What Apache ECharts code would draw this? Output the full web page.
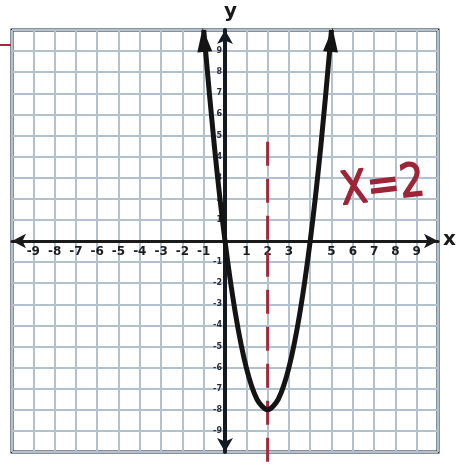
<!DOCTYPE html>
<html>
<head>
<meta charset="utf-8">
<script src="https://cdn.jsdelivr.net/npm/echarts@6/dist/echarts.min.js"></script>
<style>
  html, body { margin: 0; padding: 0; background: #ffffff; }
  #chart { width: 462px; height: 476px; }
</style>
</head>
<body>
<div id="chart"></div>
<script>
// Parabola y = 2x^2 - 8x, points read at half-unit steps
const curveX = [-1, -0.5, 0, 0.5, 1, 1.5, 2, 2.5, 3, 3.5, 4, 4.5, 5];
const curveY = [10, 4.5, 0, -3.5, -6, -7.5, -8, -7.5, -6, -3.5, 0, 4.5, 10];

// Printed tick numbers on the axes
const xTickLabels = [-9, -8, -7, -6, -5, -4, -3, -2, -1, 1, 2, 3, 5, 6, 7, 8, 9];
const yTickLabels = [-9, -8, -7, -6, -5, -4, -3, -2, -1, 1, 2, 3, 4, 5, 6, 7, 8, 9];

// Axis of symmetry x = 2, drawn as a dashed line
const symmetryX = 2;
const symmetryTop = 4.7;
const symmetryBottom = -10.8;

// Plot area in pixels; the axes cross at the centre, so each axis is
// shifted by half the plot size from its default edge
const GRID = { left: 12, right: 24, top: 30, bottom: 24 };
const plotW = 462 - GRID.left - GRID.right;
const plotH = 476 - GRID.top - GRID.bottom;

const curveData = curveX.map((x, i) => {
  const pt = { value: [x, curveY[i]] };
  if (i === 0 || i === curveX.length - 1) {
    pt.symbol = 'triangle';
    pt.symbolSize = [15, 24];
    pt.symbolRotate = i === 0 ? 5 : -5;
    pt.symbolOffset = [0, 10];
    pt.itemStyle = { color: '#141414' };
  }
  return pt;
});

const chart = echarts.init(document.getElementById('chart'), null, { renderer: 'canvas' });

chart.setOption({
  backgroundColor: '#ffffff',
  animation: false,
  grid: Object.assign({}, GRID, {
    show: true,
    borderColor: '#17222c',
    borderWidth: 3,
    backgroundColor: 'transparent'
  }),
  xAxis: {
    type: 'value',
    position: 'bottom',
    offset: -plotH / 2,
    min: -10, max: 10, interval: 1,
    axisLine: {
      onZero: false,
      lineStyle: { color: '#1a1a1a', width: 3 },
      symbol: ['arrow', 'arrow'],
      symbolSize: [11, 14]
    },
    axisTick: { show: false },
    splitLine: { show: true, lineStyle: { color: '#b3c0cd', width: 2 } },
    axisLabel: {
      margin: 5,
      fontSize: 12,
      fontWeight: 'bold',
      fontFamily: 'DejaVu Sans',
      color: '#1c1c1c',
      formatter: v => (xTickLabels.includes(v) ? String(v) : '')
    }
  },
  yAxis: {
    type: 'value',
    position: 'left',
    offset: -plotW / 2,
    min: -10, max: 10, interval: 1,
    axisLine: {
      onZero: false,
      lineStyle: { color: '#141a22', width: 4 },
      symbol: ['arrow', 'arrow'],
      symbolSize: [12, 14]
    },
    axisTick: { show: false },
    splitLine: { show: true, lineStyle: { color: '#b3c0cd', width: 2 } },
    axisLabel: {
      margin: 3,
      fontSize: 8,
      fontWeight: 'bold',
      fontFamily: 'DejaVu Sans',
      color: '#2a2a3a',
      formatter: v => (yTickLabels.includes(v) ? String(v) : '')
    }
  },
  series: [
    {
      type: 'line',
      name: 'axis of symmetry',
      data: [[symmetryX, symmetryTop], [symmetryX, symmetryBottom]],
      symbol: 'none',
      clip: false,
      z: 3,
      lineStyle: { color: '#a12a3c', width: 3, type: [24, 13] }
    },
    {
      type: 'line',
      name: 'parabola',
      data: curveData,
      smooth: 0.3,
      symbol: 'none',
      clip: false,
      z: 4,
      lineStyle: { color: '#141414', width: 5 }
    }
  ],
  graphic: [
    {
      type: 'text', left: 224, top: 2, z: 10,
      style: { text: 'y', font: 'bold 20px "DejaVu Sans"', fill: '#1a1a1a' }
    },
    {
      type: 'text', left: 443, top: 230, z: 10,
      style: { text: 'x', font: 'bold 20px "DejaVu Sans"', fill: '#1a1a1a' }
    },
    {
      type: 'text', x: 338, y: 170, z: 10,
      rotation: 0.12, scaleX: 0.85,
      style: {
        text: 'X=2', font: '46px "DejaVu Sans"', fill: '#9c2638',
        stroke: '#9c2638', lineWidth: 1.5
      }
    },
    {
      type: 'line', z: 10,
      shape: { x1: 0, y1: 45, x2: 11, y2: 45 },
      style: { stroke: '#a12a3c', lineWidth: 2 }
    }
  ]
});
</script>
</body>
</html>
